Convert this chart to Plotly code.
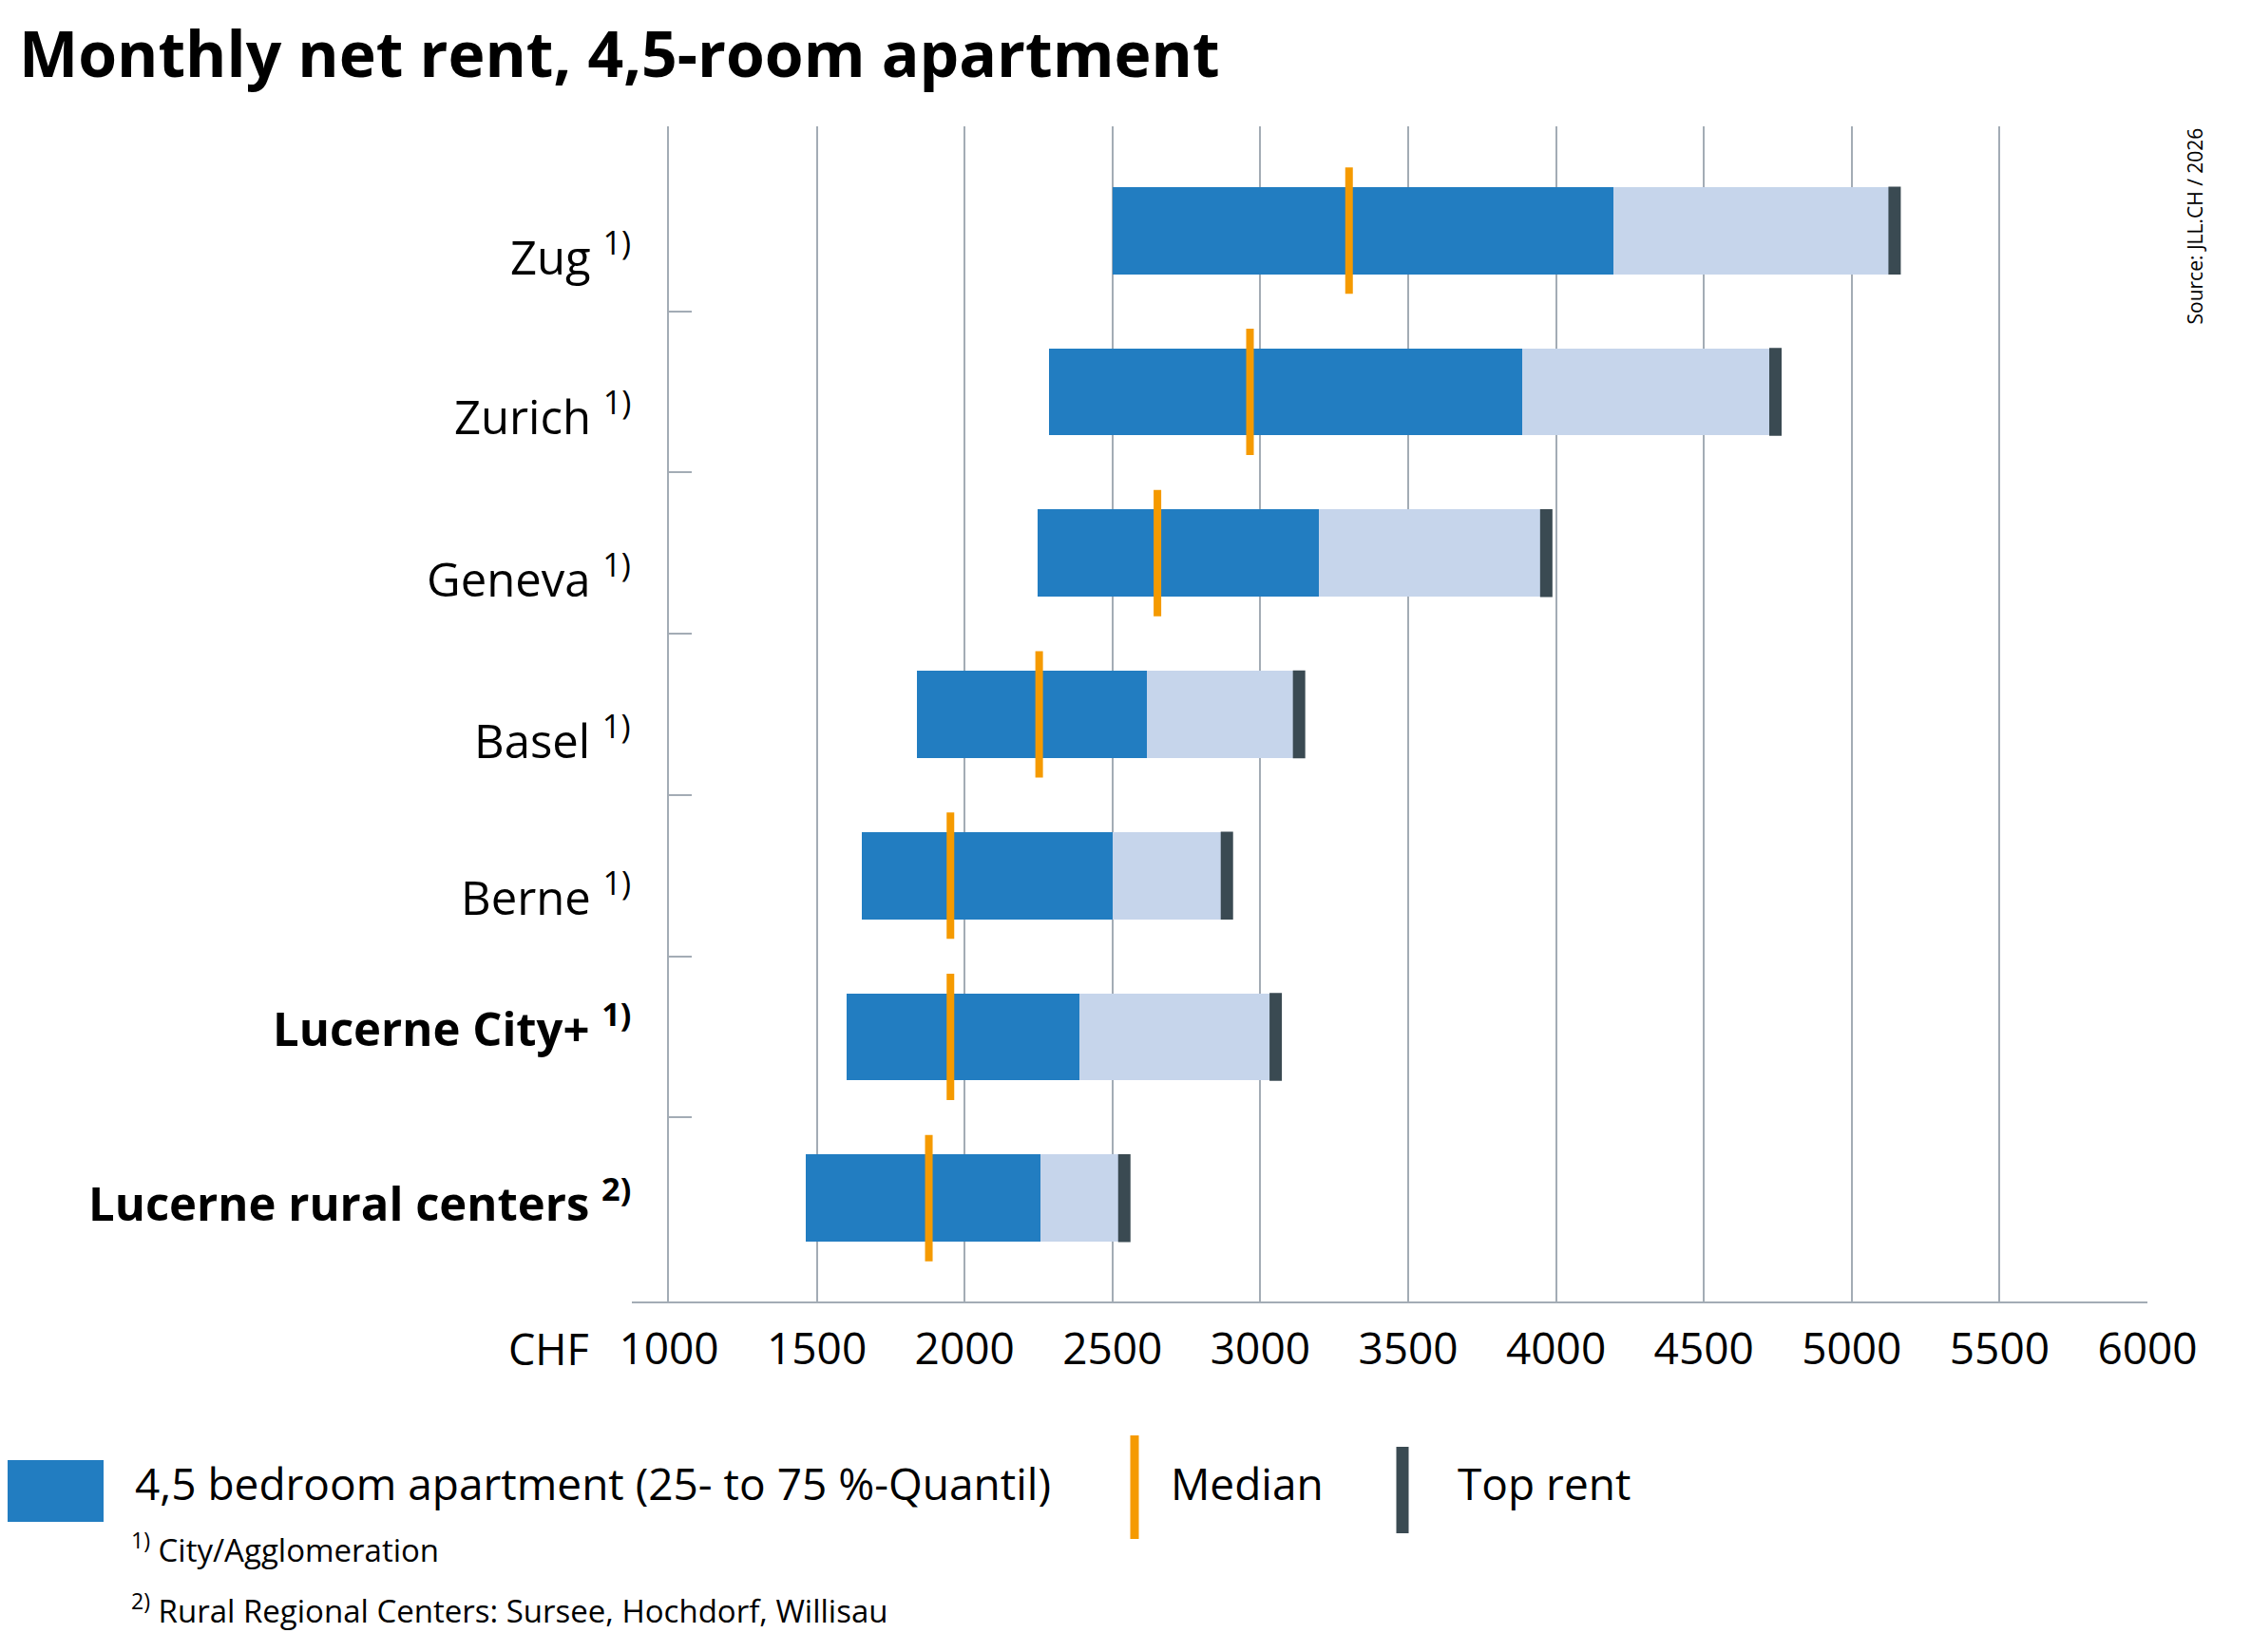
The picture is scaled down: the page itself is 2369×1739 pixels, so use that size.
import plotly.graph_objects as go

# values (CHF per month)
cities = ['Zug', 'Zurich', 'Geneva', 'Basel', 'Berne', 'Lucerne City+', 'Lucerne rural centers']
notes = ['1)', '1)', '1)', '1)', '1)', '1)', '2)']
bold = [False, False, False, False, False, True, True]
q25 = [2500, 2285, 2248, 1840, 1651, 1601, 1462]
q75 = [4195, 3885, 3198, 2617, 2502, 2387, 2258]
median = [3300, 2965, 2652, 2252, 1952, 1952, 1879]
top_rent = [5145, 4742, 3967, 3131, 2887, 3052, 2540]
x_ticks = [1000, 1500, 2000, 2500, 3000, 3500, 4000, 4500, 5000, 5500, 6000]

W, H = 2369, 1739
PAGE_PAD = 8  # default body margin of the html page
FONT = 'Open Sans'
BLUE = '#227dc1'
LIGHT = '#c6d5eb'
DARK = '#3a4a52'
ORANGE = '#f59a00'
GRID = '#a3acb5'


# page pixel -> paper fraction
def px(x):
    return (x - PAGE_PAD) / W


def py(y):
    return 1 - (y - PAGE_PAD) / H


idx = list(range(len(cities)))

fig = go.Figure()
fig.add_trace(go.Bar(y=idx, x=[t - b for t, b in zip(top_rent, q75)], base=q75, orientation='h',
                     width=0.54, marker=dict(color=LIGHT, line=dict(width=0)), showlegend=False))
fig.add_trace(go.Bar(y=idx, x=[t - b for t, b in zip(q75, q25)], base=q25, orientation='h',
                     width=0.54, marker=dict(color=BLUE, line=dict(width=0)), showlegend=False))
fig.add_trace(go.Scatter(y=idx, x=top_rent, mode='markers', showlegend=False,
                         marker=dict(symbol='line-ns', size=66, line=dict(width=13, color=DARK))))
fig.add_trace(go.Scatter(y=idx, x=median, mode='markers', showlegend=False,
                         marker=dict(symbol='line-ns', size=95, line=dict(width=8, color=ORANGE))))

# category labels (slightly below bar centres like the original)
label_shift = [-24, -22, -24, -24, -19, 12, -2]
for i, (c, n, b) in enumerate(zip(cities, notes, bold)):
    txt = f'<b>{c} <sup>{n}</sup></b>' if b else f'{c} <sup>{n}</sup>'
    fig.add_annotation(x=px(666), xref='paper', y=i, yref='y', text=txt, showarrow=False,
                       xanchor='right', yanchor='middle', yshift=label_shift[i],
                       font=dict(family=FONT, size=49, color='black'))

# title, source, axis unit
fig.add_annotation(x=px(18), y=py(8), xref='paper', yref='paper', xanchor='left', yanchor='top',
                   text='<b>Monthly net rent, 4,5-room apartment</b>', showarrow=False,
                   font=dict(family=FONT, size=66, color='black'))
fig.add_annotation(x=px(2309), y=py(133), xref='paper', yref='paper', xanchor='center', yanchor='top',
                   text='Source: JLL.CH / 2026', textangle=-90, showarrow=False,
                   font=dict(family=FONT, size=21, color='black'))
fig.add_annotation(x=px(622), y=py(1419), xref='paper', yref='paper', xanchor='right', yanchor='middle',
                   text='CHF', showarrow=False, font=dict(family=FONT, size=45, color='black'))

# bottom axis line reaching past the 1000 grid line
fig.add_shape(type='line', xref='paper', yref='paper', x0=px(665), x1=px(2260), y0=py(1371), y1=py(1371),
              line=dict(color=GRID, width=2))

# legend
fig.add_shape(type='rect', xref='paper', yref='paper', x0=px(8), x1=px(109), y0=py(1537), y1=py(1602),
              fillcolor=BLUE, line=dict(width=0))
fig.add_shape(type='line', xref='paper', yref='paper', x0=px(1194), x1=px(1194), y0=py(1511), y1=py(1620),
              line=dict(color=ORANGE, width=9))
fig.add_shape(type='line', xref='paper', yref='paper', x0=px(1476), x1=px(1476), y0=py(1523), y1=py(1614),
              line=dict(color=DARK, width=13))
legend_items = [(140, '4,5 bedroom apartment (25- to 75 %-Quantil)'), (1230, 'Median'), (1532, 'Top rent')]
for x0, t in legend_items:
    fig.add_annotation(x=px(x0), y=py(1561), xref='paper', yref='paper', xanchor='left', yanchor='middle',
                       text=t, showarrow=False, font=dict(family=FONT, size=46, color='black'))
footnotes = [(1629, '<sup>1)</sup> City/Agglomeration'),
             (1693, '<sup>2)</sup> Rural Regional Centers: Sursee, Hochdorf, Willisau')]
for y0, t in footnotes:
    fig.add_annotation(x=px(136), y=py(y0), xref='paper', yref='paper', xanchor='left', yanchor='middle',
                       text=t, showarrow=False, font=dict(family=FONT, size=33, color='black'))

fig.update_layout(
    width=W, height=H,
    margin=dict(l=0, r=0, t=0, b=0, autoexpand=False),
    paper_bgcolor='white', plot_bgcolor='white',
    barmode='overlay', bargap=0,
    font=dict(family=FONT, color='black'),
    xaxis=dict(domain=[px(704), px(2260)], range=[1000, 6000], tickvals=x_ticks, automargin=False,
               showgrid=True, gridcolor=GRID, gridwidth=2, zeroline=False, showline=False,
               ticks='', ticklabelstandoff=18, tickfont=dict(family=FONT, size=46, color='black')),
    yaxis=dict(domain=[py(1371), py(133)], range=[6.647, -0.647], autorange=False, automargin=False,
               tickvals=[i + 0.5 for i in idx[:-1]], ticks='inside', ticklen=24, tickwidth=2,
               tickcolor=GRID, showticklabels=False, showgrid=False, zeroline=False,
               showline=True, linecolor=GRID, linewidth=2),
)

fig.write_html('out.html')
